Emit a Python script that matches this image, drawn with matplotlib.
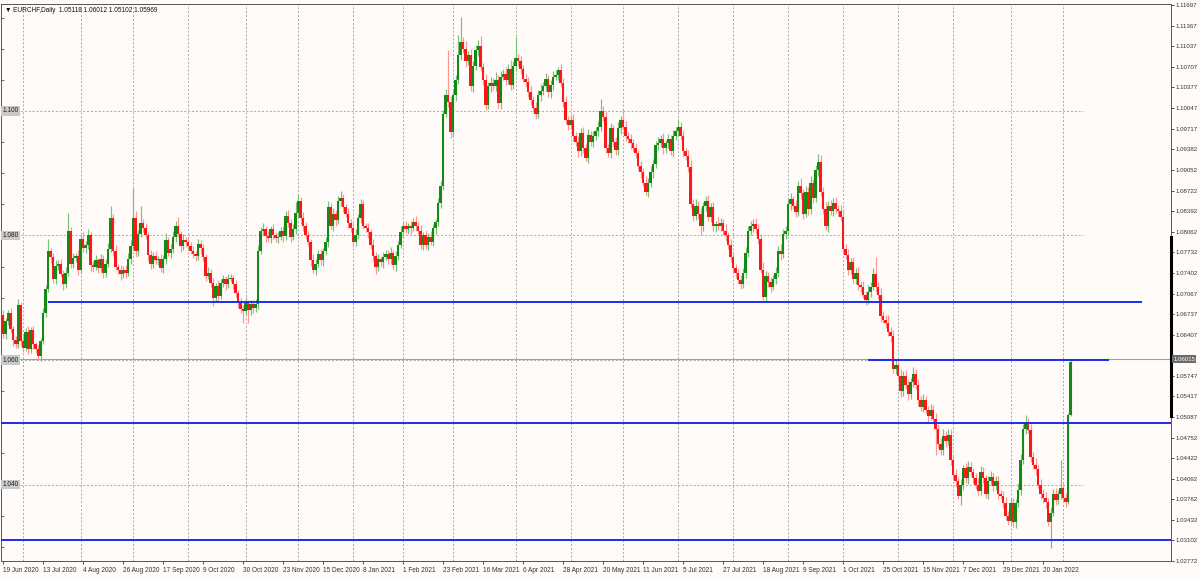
import matplotlib
matplotlib.use('Agg')
import matplotlib.pyplot as plt
import matplotlib.transforms as mtransforms
import numpy as np

plt.rcParams['font.family'] = ['Liberation Sans', 'DejaVu Sans']

# EURCHF daily closes, in pips above 1.0000 (1 pip = 0.0001)
first_open = 672
closes = [
    642, 662, 675, 650, 632, 625, 688, 630, 620, 645, 618, 648, 625, 618, 606, 631, 676, 714, 775, 765,
    730, 751, 755, 738, 722, 740, 807, 755, 764, 767, 745, 794, 780, 785, 800, 752, 749, 760, 748, 762,
    740, 755, 778, 828, 775, 750, 745, 738, 745, 740, 762, 783, 828, 775, 802, 820, 812, 800, 768, 754,
    767, 760, 762, 748, 762, 792, 772, 778, 797, 815, 802, 783, 793, 790, 783, 775, 770, 767, 786, 780,
    765, 735, 740, 724, 700, 719, 703, 724, 730, 722, 730, 732, 722, 708, 692, 682, 679, 692, 680, 690,
    683, 690, 775, 807, 810, 799, 796, 810, 800, 796, 798, 807, 799, 831, 820, 797, 810, 836, 855, 828,
    815, 800, 790, 760, 745, 755, 770, 760, 775, 790, 845, 815, 835, 825, 855, 860, 845, 835, 820, 812,
    790, 800, 828, 850, 815, 812, 805, 785, 767, 750, 762, 757, 765, 770, 762, 772, 752, 767, 785, 806,
    815, 810, 815, 812, 822, 815, 808, 785, 800, 785, 798, 790, 812, 822, 852, 880, 995, 1025, 1015, 967,
    1025, 1050, 1090, 1110, 1100, 1080, 1090, 1040, 1072, 1098, 1105, 1070, 1050, 1010, 1040, 1045, 1040, 1050, 1012, 1055,
    1060, 1050, 1068, 1042, 1072, 1085, 1080, 1068, 1052, 1047, 1030, 1018, 1005, 995, 1025, 1032, 1040, 1052, 1030, 1042,
    1055, 1058, 1065, 1045, 1015, 985, 978, 985, 960, 950, 935, 965, 940, 925, 962, 950, 960, 968, 975, 1000,
    990, 940, 933, 972, 950, 937, 972, 985, 975, 960, 955, 948, 940, 932, 912, 902, 885, 870, 885, 902,
    915, 945, 948, 955, 940, 948, 955, 935, 960, 968, 975, 960, 935, 928, 910, 850, 832, 848, 835, 815,
    848, 855, 830, 845, 815, 818, 815, 820, 808, 800, 785, 765, 748, 740, 728, 722, 740, 772, 808, 815,
    818, 810, 795, 745, 702, 735, 725, 718, 730, 740, 775, 770, 802, 808, 850, 858, 848, 838, 880, 868,
    835, 870, 842, 885, 860, 905, 918, 870, 843, 815, 848, 840, 852, 842, 840, 830, 778, 768, 745, 757,
    730, 740, 720, 718, 705, 697, 710, 718, 738, 717, 705, 670, 665, 660, 645, 638, 585, 592, 575, 550,
    575, 560, 545, 565, 578, 560, 535, 525, 535, 520, 510, 520, 505, 490, 465, 455, 478, 470, 480, 440,
    415, 405, 382, 400, 426, 410, 428, 420, 410, 400, 390, 420, 410, 385, 405, 412, 398, 405, 385, 382,
    370, 350, 342, 370, 340, 370, 392, 440, 490, 500, 488, 445, 432, 425, 400, 385, 378, 372, 340, 355,
    385, 375, 385, 395, 378, 372, 512, 597,
]
# wick length above / below the body, in pips
upper_wick = [
    8, 6, 5, 9, 4, 7, 10, 5, 8, 6, 9, 5, 7, 4, 6, 5, 8, 6, 20, 5,
    7, 9, 5, 8, 6, 10, 29, 6, 8, 5, 9, 7, 12, 6, 10, 5, 7, 9, 4, 8,
    6, 8, 10, 20, 6, 9, 5, 7, 6, 8, 10, 9, 48, 12, 7, 27, 6, 8, 5, 9,
    6, 8, 5, 9, 7, 12, 6, 8, 10, 8, 15, 6, 9, 5, 7, 6, 8, 5, 9, 6,
    7, 5, 10, 6, 8, 5, 9, 6, 7, 5, 8, 6, 4, 7, 5, 8, 6, 9, 5, 7,
    6, 8, 9, 7, 10, 5, 8, 6, 9, 5, 7, 6, 8, 8, 10, 6, 9, 18, 12, 7,
    9, 6, 8, 5, 10, 7, 6, 9, 5, 8, 10, 7, 9, 6, 8, 12, 7, 5, 9, 6,
    8, 10, 6, 9, 7, 5, 8, 6, 10, 7, 9, 5, 8, 6, 7, 9, 5, 8, 6, 10,
    7, 9, 5, 8, 6, 10, 7, 9, 5, 8, 6, 9, 7, 5, 8, 8, 6, 10, 73, 9,
    10, 8, 32, 41, 9, 12, 7, 10, 8, 8, 9, 15, 7, 10, 6, 9, 8, 12, 7, 9,
    8, 10, 7, 14, 9, 34, 7, 9, 6, 8, 7, 10, 6, 9, 8, 11, 7, 9, 6, 8,
    9, 7, 6, 10, 8, 9, 7, 8, 10, 6, 9, 8, 10, 7, 9, 6, 8, 7, 9, 19,
    8, 10, 7, 9, 6, 8, 10, 7, 18, 9, 6, 8, 7, 9, 5, 8, 6, 10, 7, 9,
    8, 6, 10, 7, 9, 6, 8, 7, 9, 6, 12, 8, 10, 6, 9, 12, 8, 10, 7, 9,
    6, 8, 10, 7, 9, 6, 12, 8, 7, 10, 6, 9, 8, 7, 6, 9, 8, 10, 7, 9,
    8, 10, 9, 7, 12, 8, 6, 9, 7, 10, 8, 12, 9, 7, 8, 10, 6, 9, 8, 12,
    7, 9, 8, 10, 6, 9, 13, 12, 8, 10, 7, 9, 8, 10, 7, 9, 11, 8, 10, 7,
    9, 8, 10, 7, 9, 6, 10, 8, 9, 27, 8, 10, 9, 7, 12, 8, 10, 9, 8, 10,
    7, 9, 8, 6, 10, 8, 9, 7, 10, 8, 6, 9, 8, 10, 7, 9, 11, 8, 10, 9,
    8, 10, 7, 9, 6, 8, 10, 9, 7, 8, 10, 9, 8, 6, 9, 10, 7, 8, 9, 6,
    8, 10, 7, 9, 8, 6, 10, 9, 8, 11, 7, 9, 8, 10, 7, 9, 8, 10, 7, 9,
    8, 10, 7, 44, 8, 9, 3, 4,
]
lower_wick = [
    6, 8, 5, 7, 9, 6, 5, 8, 7, 5, 9, 6, 8, 7, 6, 8, 5, 7, 5, 9,
    6, 8, 7, 5, 9, 6, 5, 8, 7, 6, 9, 5, 7, 8, 6, 9, 7, 5, 8, 6,
    9, 7, 6, 5, 8, 6, 7, 9, 6, 8, 5, 7, 6, 9, 8, 5, 7, 6, 9, 8,
    7, 5, 8, 6, 9, 7, 5, 8, 6, 7, 5, 9, 6, 8, 7, 5, 6, 8, 7, 9,
    6, 8, 5, 7, 13, 6, 8, 5, 7, 9, 6, 5, 8, 7, 9, 6, 19, 7, 20, 8,
    7, 6, 8, 5, 7, 9, 6, 8, 5, 7, 8, 6, 9, 7, 6, 8, 5, 7, 6, 9,
    8, 6, 7, 9, 5, 8, 6, 7, 9, 6, 8, 5, 7, 9, 6, 8, 7, 5, 8, 6,
    9, 7, 6, 8, 5, 7, 9, 6, 8, 12, 7, 6, 9, 5, 8, 7, 6, 9, 7, 5,
    8, 6, 7, 9, 5, 8, 6, 7, 9, 6, 8, 5, 7, 9, 6, 8, 7, 5, 8, 10,
    7, 9, 6, 8, 7, 9, 6, 8, 10, 7, 9, 6, 8, 8, 7, 9, 6, 8, 7, 9,
    6, 8, 7, 9, 6, 8, 7, 9, 6, 8, 7, 9, 6, 8, 7, 9, 6, 8, 7, 9,
    8, 6, 9, 7, 8, 6, 9, 7, 8, 6, 9, 7, 8, 6, 9, 7, 8, 6, 9, 7,
    6, 8, 7, 9, 6, 8, 7, 9, 6, 8, 7, 9, 6, 8, 7, 9, 6, 5, 8, 7,
    9, 7, 8, 6, 9, 7, 8, 6, 9, 7, 8, 6, 9, 7, 8, 6, 9, 7, 8, 15,
    7, 9, 6, 8, 7, 9, 6, 8, 7, 9, 6, 8, 7, 9, 6, 8, 7, 9, 6, 8,
    9, 7, 8, 6, 6, 8, 7, 9, 6, 8, 7, 9, 6, 8, 7, 9, 6, 8, 7, 9,
    8, 6, 9, 7, 8, 6, 9, 7, 8, 6, 9, 7, 8, 6, 9, 7, 8, 6, 9, 7,
    6, 8, 7, 9, 6, 8, 7, 9, 6, 8, 7, 9, 6, 8, 7, 9, 6, 8, 7, 9,
    8, 6, 9, 7, 8, 6, 9, 7, 8, 6, 9, 7, 8, 43, 6, 8, 7, 9, 6, 8,
    7, 9, 6, 15, 8, 7, 9, 6, 8, 7, 9, 6, 8, 7, 9, 6, 8, 7, 9, 6,
    8, 7, 7, 6, 8, 9, 6, 8, 7, 9, 6, 8, 7, 9, 6, 8, 7, 9, 7, 42,
    6, 8, 7, 9, 6, 8, 3, 2,
]

date_labels = ['19 Jun 2020', '13 Jul 2020', '4 Aug 2020', '26 Aug 2020', '17 Sep 2020',
               '9 Oct 2020', '30 Oct 2020', '23 Nov 2020', '15 Dec 2020', '8 Jan 2021',
               '1 Feb 2021', '23 Feb 2021', '16 Mar 2021', '6 Apr 2021', '28 Apr 2021',
               '20 May 2021', '11 Jun 2021', '5 Jul 2021', '27 Jul 2021', '18 Aug 2021',
               '9 Sep 2021', '1 Oct 2021', '25 Oct 2021', '15 Nov 2021', '7 Dec 2021',
               '29 Dec 2021', '20 Jan 2022']
date_bars = list(range(0, 417, 16))
month_bars = [8, 31, 52, 74, 97, 118, 140, 160, 180, 205, 227, 248, 270, 292, 314,
              336, 358, 380, 403, 424]
price_ticks = [1.02772, 1.03102, 1.03432, 1.03762, 1.04092, 1.04422, 1.04752, 1.05087,
               1.05417, 1.05747, 1.06407, 1.06737, 1.07067, 1.07402, 1.07732, 1.08062,
               1.08392, 1.08722, 1.09052, 1.09382, 1.09717, 1.10047, 1.10377, 1.10707,
               1.11037, 1.11367, 1.11697]
grid_levels = [1.100, 1.080, 1.060, 1.040]
# horizontal support / resistance lines: (price, first bar, last bar)
blue_levels = [(1.0693, 18, 455.6), (1.0600, 346, 442.4), (1.0499, -2, 470), (1.0311, -2, 470)]
last_price = 1.06015
title = '▼ EURCHF,Daily  1.05118 1.06012 1.05102 1.05969'

bg = '#fffbf9'
fs = 4.7
fs_y = 4.4
fig = plt.figure(figsize=(12, 5.78), dpi=100, facecolor=bg)
ax = fig.add_axes([1 / 1200, 1 - 561 / 578, 1170 / 1200, 557 / 578])
ax.set_facecolor(bg)
ax.set_xlim(-0.8, 467.2)
ax.set_ylim(1.02793, 1.11718)

c = 1 + np.array(closes) / 10000
o = np.concatenate([[1 + first_open / 10000], c[:-1]])
hi = np.maximum(o, c) + np.array(upper_wick) / 10000
lo = np.minimum(o, c) - np.array(lower_wick) / 10000
x = np.arange(len(c))
up = c >= o

# grid
for b in month_bars:
    ax.axvline(b, color='#a8a8a8', lw=0.7, ls=(0, (2, 2)), zorder=0)
for lev in grid_levels:
    ax.plot([-0.8, 432], [lev, lev], color='#a8a8a8', lw=0.7, ls=(0, (2, 2)), zorder=0)
    ax.text(-0.3, lev, f'{lev:.3f}', fontsize=fs, color='#202020', va='center', ha='left',
            bbox=dict(facecolor='#c9c9c9', edgecolor='none', pad=0.9), zorder=5)

# candles
ax.vlines(x[up], lo[up], hi[up], color='#7cbf7c', lw=0.85, zorder=2)
ax.vlines(x[~up], lo[~up], hi[~up], color='#ff9494', lw=0.85, zorder=2)
ax.bar(x[up], np.maximum((c - o)[up], 0.00006), bottom=o[up], width=0.85,
       color='#138a13', linewidth=0, zorder=3)
ax.bar(x[~up], np.maximum((o - c)[~up], 0.00006), bottom=c[~up], width=0.85,
       color='#ff1717', linewidth=0, zorder=3)

# lines
ax.axhline(last_price, color='#a0a0a0', lw=0.8, zorder=1)
for lev, x0, x1 in blue_levels:
    ax.plot([x0, x1], [lev, lev], color='#1a2cf0', lw=1.4, zorder=4, solid_capstyle='butt')

# axes styling
for side in ['left', 'right', 'top', 'bottom']:
    ax.spines[side].set_color('#555555')
    ax.spines[side].set_linewidth(0.7)

ax.yaxis.tick_right()
ax.set_yticks(price_ticks)
ax.set_yticklabels([f'{p:.5f}' for p in price_ticks])
ax.tick_params(axis='y', direction='out', length=2, width=0.6, colors='#333333',
               labelsize=fs_y, pad=1.5)

ax.set_xticks(date_bars)
ax.set_xticklabels(date_labels, ha='left')
ax.tick_params(axis='x', direction='out', length=2.5, width=0.6, colors='#333333',
               labelsize=fs, pad=2)

left = ax.secondary_yaxis('left')
left.set_yticks(np.arange(1.030, 1.1151, 0.005))
left.tick_params(direction='in', length=2.5, width=0.6, colors='#555555', labelleft=False)
left.spines['left'].set_visible(False)

# price scale highlight and last-price label
trans = mtransforms.blended_transform_factory(ax.transAxes, ax.transData)
ax.plot([1, 1], [1.0510, 1.0797], transform=trans, color='black', lw=2.2, clip_on=False, zorder=6)
ax.text(1.002, last_price, f'{last_price:.5f}', transform=trans, fontsize=fs_y, color='white',
        va='center', ha='left', bbox=dict(facecolor='#6a6a6a', edgecolor='none', pad=0.8),
        zorder=7, clip_on=False)

ax.text(0.003, 0.988, title, transform=ax.transAxes, fontsize=fs, color='#111111',
        va='center', ha='left', zorder=7)

fig.savefig('out.png', dpi=100, facecolor=bg)
